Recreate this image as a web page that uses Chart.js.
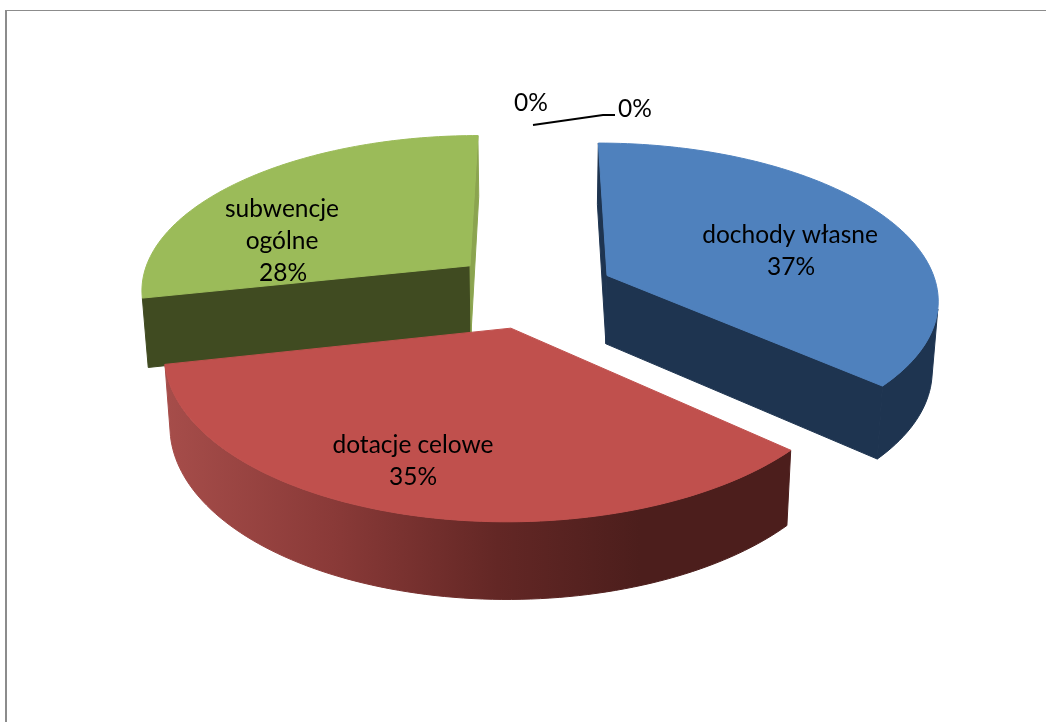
<!DOCTYPE html>
<html lang="pl">
<head>
<meta charset="utf-8">
<title>Struktura dochodów</title>
<script src="https://cdn.jsdelivr.net/npm/chart.js@4/dist/chart.umd.min.js"></script>
<style>
    html, body { margin: 0; height: 100%; background: #fff; overflow: hidden; }
    #ramka { position: absolute; left: 5px; top: 10px; width: 1100px; height: 800px;
             border-left: 2px solid #8c8c8c; border-top: 1.5px solid #8c8c8c; }
    canvas { position: absolute; left: 0; top: 0; }
</style>
</head>
<body>
<div id="ramka"></div>
<canvas id="wykres" width="1046" height="722"></canvas>
<script>
// dane
const kategorie = ['dochody własne', 'dotacje celowe', 'subwencje ogólne', '', ''];
const wartosci = [36.6, 35, 28.4, 0, 0];
const procenty = ['37%', '35%', '28%', '0%', '0%'];

const koloryGora = ['#4F81BD', '#C0504D', '#9BBB59', '#8064A2', '#4BACC6'];
const koloryBok = ['#1E3450', '#4C1E1C', '#404B21', '#8064A2', '#4BACC6'];
const koloryKoniec = ['#1E3450', '#4C1E1C', '#8BA44F', '#8064A2', '#4BACC6'];
const odsuniecia = [60, 60, 65, 0, 0];

// rzut perspektywiczny plaszczyzny kola (skos 3D jak w Excelu)
const widok = { x0: 535.5, y0: 290.5, rx: 331, ry: 154.9, k: 0.14, gruboscX: 0.985, h: 69, hv: 7 };
// drobna korekta wycinka czerwonego w plaszczyznie kola
const korektaU = [0, -0.011, 0, 0, 0];
const korektaV = [0, 0.003, 0, 0, 0];

function rzut(u, v) {
    const w = 1 / (1 - widok.k * v);
    return { x: widok.x0 + widok.rx * u * w, y: widok.y0 + widok.ry * v * w };
}

function dol(p, v) {
    return {
        x: widok.x0 + (p.x - widok.x0) * widok.gruboscX,
        y: p.y + widok.h + widok.hv * v
    };
}

function wielokat(ctx, punkty, kolor) {
    ctx.beginPath();
    punkty.forEach((p, i) => (i ? ctx.lineTo(p.x, p.y) : ctx.moveTo(p.x, p.y)));
    ctx.closePath();
    ctx.fillStyle = kolor;
    ctx.strokeStyle = kolor;
    ctx.lineWidth = 1;
    ctx.fill();
    ctx.stroke();
}

function pole(punkty) {
    let s = 0;
    punkty.forEach((p, i) => {
        const q = punkty[(i + 1) % punkty.length];
        s += p.x * q.y - q.x * p.y;
    });
    return s / 2;
}

function rysujWycinek(ctx, luk, i) {
    const mid = (luk.startAngle + luk.endAngle) / 2;
    const e = luk.options.offset / luk.outerRadius;
    const u0 = Math.cos(mid) * e + korektaU[i];
    const v0 = Math.sin(mid) * e + korektaV[i];

    // brzeg wycinka wyliczony z katow elementu Chart.js
    const kroki = 90;
    const brzeg = [];
    for (let n = 0; n <= kroki; n++) {
        const a = luk.startAngle + (luk.endAngle - luk.startAngle) * n / kroki;
        brzeg.push({ u: u0 + Math.cos(a), v: v0 + Math.sin(a) });
    }
    const srodek = { u: u0, v: v0 };
    const gora = (q) => rzut(q.u, q.v);
    const spod = (q) => dol(rzut(q.u, q.v), q.v);

    // sciany radialne
    const sciana1 = [gora(srodek), gora(brzeg[0]), spod(brzeg[0]), spod(srodek)];
    if (pole(sciana1) < 0) wielokat(ctx, sciana1, koloryBok[i]);
    const sciana2 = [gora(brzeg[kroki]), gora(srodek), spod(srodek), spod(brzeg[kroki])];
    if (pole(sciana2) < 0) wielokat(ctx, sciana2, koloryKoniec[i]);

    // sciana boczna, sklejona w jeden wielokat zeby nie bylo szwow
    let kolor = koloryBok[i];
    if (i === 1) {
        kolor = ctx.createLinearGradient(166, 0, 640, 0);
        kolor.addColorStop(0, '#A64D4A');
        kolor.addColorStop(0.35, '#8A3A38');
        kolor.addColorStop(0.7, '#632725');
        kolor.addColorStop(1, '#4C1E1C');
    }
    let gorne = [];
    let dolne = [];
    const zamknij = () => {
        if (gorne.length) wielokat(ctx, gorne.concat(dolne.reverse()), kolor);
        gorne = [];
        dolne = [];
    };
    for (let n = 0; n < kroki; n++) {
        const sciana = [gora(brzeg[n]), gora(brzeg[n + 1]), spod(brzeg[n + 1]), spod(brzeg[n])];
        if (pole(sciana) < 0) {
            if (!gorne.length) {
                gorne.push(sciana[0]);
                dolne.push(sciana[3]);
            }
            gorne.push(sciana[1]);
            dolne.push(sciana[2]);
        } else {
            zamknij();
        }
    }
    zamknij();

    // wierzch
    wielokat(ctx, [gora(srodek)].concat(brzeg.map(gora)), luk.options.backgroundColor);
}

const wycinki3d = {
    id: 'wycinki3d',
    beforeDatasetsDraw(chart) {
        const ctx = chart.ctx;
        const luki = chart.getDatasetMeta(0).data;
        ctx.save();
        // od tylu do przodu
        [2, 0, 1].forEach((i) => rysujWycinek(ctx, luki[i], i));
        ctx.restore();
        return false; // zwykle kolo nie jest potrzebne
    },
    afterDraw(chart) {
        const ctx = chart.ctx;
        ctx.save();
        ctx.fillStyle = '#000';
        ctx.font = '24.5px Lato, sans-serif';
        ctx.textAlign = 'center';
        ctx.textBaseline = 'middle';
        ctx.fillText('dochody własne', 790, 235);
        ctx.fillText(procenty[0], 791, 267);
        ctx.fillText('dotacje celowe', 413, 445);
        ctx.fillText(procenty[1], 413, 477);
        ctx.fillText('subwencje', 282, 209);
        ctx.fillText('ogólne', 282, 241);
        ctx.fillText(procenty[2], 283, 273);
        ctx.fillText(procenty[3], 531, 103);
        ctx.fillText(procenty[4], 635, 109);
        // linia odniesienia etykiety 0%
        ctx.beginPath();
        ctx.moveTo(533, 125);
        ctx.lineTo(603, 115);
        ctx.lineTo(615, 115);
        ctx.lineWidth = 1.8;
        ctx.strokeStyle = '#000';
        ctx.stroke();
        ctx.restore();
    }
};

new Chart(document.getElementById('wykres'), {
    type: 'pie',
    data: {
        labels: kategorie,
        datasets: [{
            data: wartosci,
            backgroundColor: koloryGora,
            borderWidth: 0,
            offset: odsuniecia
        }]
    },
    options: {
        responsive: false,
        animation: false,
        radius: 250,
        layout: { padding: 0 },
        plugins: { legend: { display: false }, tooltip: { enabled: false } }
    },
    plugins: [wycinki3d]
});
</script>
</body>
</html>
